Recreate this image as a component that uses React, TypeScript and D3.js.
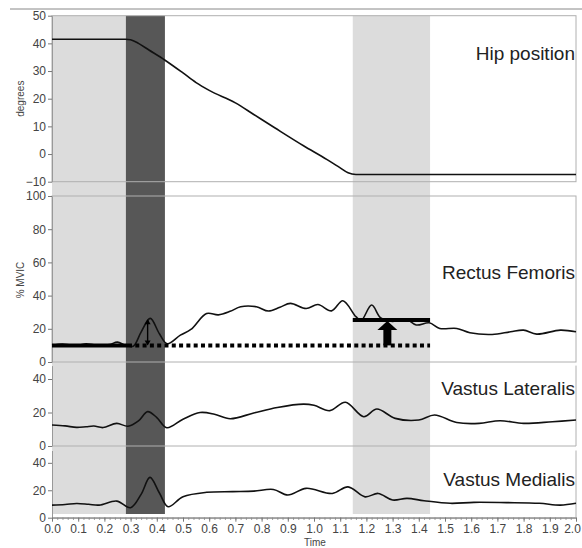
import { useEffect, useRef } from "react";
import * as d3 from "d3";

const WIDTH = 582;
const HEIGHT = 548;
const X_LEFT = 52;
const X_RIGHT = 576;
const FONT = "Arial, 'Liberation Sans', Helvetica, sans-serif";

// hip position (degrees)
const hipTime = [0, 0.28, 0.3, 0.33, 0.37, 0.43, 0.5, 0.55, 0.6, 0.7, 0.77, 0.85, 0.96, 1.05, 1.1, 1.13, 1.16, 2.0];
const hipDeg = [41.5, 41.5, 41.3, 40, 37.6, 34, 29.3, 25.8, 23, 18.5, 14.3, 9.5, 3, -2, -5, -6.8, -7.4, -7.4];

// rectus femoris (% MVIC)
const rfTime = [0, 0.04, 0.07, 0.1, 0.13, 0.16, 0.19, 0.22, 0.25, 0.28, 0.31, 0.34, 0.375, 0.41, 0.44, 0.49, 0.53, 0.59, 0.635, 0.68, 0.72, 0.78, 0.826, 0.87, 0.91, 0.97, 1.015, 1.067, 1.11, 1.16, 1.18, 1.22, 1.255, 1.3, 1.35, 1.39, 1.44, 1.48, 1.545, 1.595, 1.68, 1.75, 1.8, 1.85, 1.94, 2.0];
const rfVal = [10, 10.8, 10.2, 10, 11, 10.3, 10, 10.5, 12, 10, 9.5, 18, 26.3, 17, 11, 16.2, 19.6, 29.2, 28.4, 30.5, 33.3, 33.3, 30.7, 33, 35.3, 32.2, 34.6, 30.8, 36.9, 27.3, 25, 34.3, 26.5, 24.5, 26, 22.3, 23.6, 20.2, 20.2, 17.6, 16.6, 18.2, 19.2, 16.8, 19.2, 18.2];

// vastus lateralis (% MVIC)
const vlTime = [0, 0.05, 0.094, 0.13, 0.16, 0.195, 0.247, 0.29, 0.33, 0.365, 0.4, 0.438, 0.5, 0.565, 0.62, 0.68, 0.77, 0.86, 0.96, 1.0, 1.06, 1.12, 1.19, 1.24, 1.31, 1.4, 1.46, 1.545, 1.63, 1.71, 1.8, 1.91, 2.0];
const vlVal = [12.5, 12, 11.1, 11.5, 11.9, 11, 13.5, 11.8, 15, 20.5, 17, 10.9, 16, 20, 19, 16.3, 19.7, 23, 25, 24.3, 21.1, 26.1, 17.5, 22.1, 16.5, 15.5, 18.5, 14, 13.5, 15.1, 13.5, 14.5, 15.5];

// vastus medialis (% MVIC)
const vmTime = [0, 0.05, 0.094, 0.14, 0.18, 0.247, 0.3, 0.34, 0.374, 0.41, 0.443, 0.5, 0.59, 0.69, 0.77, 0.845, 0.9, 0.97, 1.07, 1.13, 1.195, 1.245, 1.3, 1.355, 1.42, 1.52, 1.61, 1.735, 1.86, 1.94, 2.0];
const vmVal = [9.2, 9.6, 10.4, 9.8, 9.2, 12.1, 7.3, 17, 29.4, 18, 8, 15.3, 18.5, 19, 19.4, 20.6, 16.5, 21.4, 17.7, 22.5, 15.2, 17.7, 12.9, 14.1, 12.4, 10.5, 11.2, 11, 10.5, 9.2, 10.5];

const hipTicks = [-10, 0, 10, 20, 30, 40, 50];
const rfTicks = [0, 20, 40, 60, 80, 100];
const vastusTicks = [0, 20, 40];
const timeTicks = d3.range(0, 21).map((i) => i / 10);
const timeMinorTicks = d3.range(0, 101).map((i) => i / 50);
const panelLabels = ["Hip position", "Rectus Femoris", "Vastus Lateralis", "Vastus Medialis"];

// phases (s)
const lightPhases = [[0, 0.282], [1.148, 1.443]];
const darkPhase = [0.282, 0.431];

// rectus femoris annotations
const rfBaseline = 10;
const rfBaselineSolidEnd = 0.29;
const rfPeakTime = 0.365;
const rfPeak = 25.8;
const rfHoldStart = 1.148;
const rfHoldEnd = 1.443;
const rfHold = 25.3;
const rfArrowTime = 1.28;

const PANELS = [
  { top: 15.7, bottom: 181.7, domain: [-10, 50], ticks: hipTicks, labelY: 60, boxed: true },
  { top: 196, bottom: 362, domain: [0, 100], ticks: rfTicks, labelY: 279, boxed: true },
  { top: 365.6, bottom: 446, domain: [0, 48], ticks: vastusTicks, labelY: 395, boxed: false },
  { top: 450.5, bottom: 517.7, domain: [0, 49], ticks: vastusTicks, labelY: 486, boxed: false },
];

const SERIES = [
  { t: hipTime, v: hipDeg, curve: d3.curveMonotoneX },
  { t: rfTime, v: rfVal, curve: d3.curveCatmullRom.alpha(0.5) },
  { t: vlTime, v: vlVal, curve: d3.curveCatmullRom.alpha(0.5) },
  { t: vmTime, v: vmVal, curve: d3.curveCatmullRom.alpha(0.5) },
];

export default function App() {
  const axesRef = useRef<SVGGElement>(null);

  const x = d3.scaleLinear().domain([0, 2]).range([X_LEFT, X_RIGHT]);
  const ys = PANELS.map((p) => d3.scaleLinear().domain(p.domain).range([p.bottom, p.top]));
  const bandTop = PANELS[0].top;
  const bandBottom = 514;

  useEffect(() => {
    const g = d3.select(axesRef.current);
    g.selectAll("*").remove();

    const style = (sel: any, size: number) => {
      sel.attr("font-size", size).attr("font-family", FONT);
      sel.select(".domain").attr("stroke", "#999");
      sel.selectAll(".tick line").attr("stroke", "#777");
      sel.selectAll(".tick text").attr("fill", "#444");
    };

    PANELS.forEach((p, i) => {
      const ax = g
        .append("g")
        .attr("transform", `translate(${X_LEFT},0)`)
        .call(d3.axisLeft(ys[i]).tickValues(p.ticks).tickSize(4).tickSizeOuter(0).tickPadding(2));
      style(ax, 12);
    });

    const bottom = PANELS[3].bottom;
    const minor = g
      .append("g")
      .attr("transform", `translate(0,${bottom})`)
      .call(d3.axisBottom(x).tickValues(timeMinorTicks).tickSize(2).tickSizeOuter(0).tickFormat(() => ""));
    style(minor, 12);

    const major = g
      .append("g")
      .attr("transform", `translate(0,${bottom})`)
      .call(d3.axisBottom(x).tickValues(timeTicks).tickSize(4).tickSizeOuter(0).tickPadding(3).tickFormat(d3.format(".1f")));
    style(major, 12);
    // last label sits against the right edge
    major.selectAll(".tick text").filter((d: any) => d === 2).attr("dx", -4);
  }, []);

  const yRF = ys[1];
  const xa = x(rfArrowTime);
  const yHold = yRF(rfHold);
  const yBase = yRF(rfBaseline);
  const xp = x(rfPeakTime);
  const yPeak = yRF(rfPeak);

  return (
    <svg width={WIDTH} height={HEIGHT} style={{ position: "absolute", left: 0, top: 0, background: "#fff" }}>
      <line x1={10} x2={WIDTH} y1={9} y2={9} stroke="#888" strokeWidth={1} />

      {lightPhases.map(([a, b], i) => (
        <rect key={i} x={x(a)} y={bandTop} width={x(b) - x(a)} height={bandBottom - bandTop} fill="#dcdcdc" />
      ))}
      <rect x={x(darkPhase[0])} y={bandTop} width={x(darkPhase[1]) - x(darkPhase[0])} height={bandBottom - bandTop} fill="#575757" />

      {PANELS.map((p, i) =>
        p.boxed ? (
          <rect key={i} x={X_LEFT} y={p.top} width={X_RIGHT - X_LEFT} height={p.bottom - p.top} fill="none" stroke="#b0b0b0" />
        ) : (
          <g key={i} stroke="#b0b0b0" fill="none">
            <line x1={X_RIGHT} x2={X_RIGHT} y1={p.top} y2={p.bottom} />
            <line x1={X_LEFT} x2={X_RIGHT} y1={p.bottom} y2={p.bottom} />
          </g>
        )
      )}

      <g ref={axesRef} />

      {SERIES.map((s, i) => {
        const line = d3
          .line<number>()
          .x((_, j) => x(s.t[j]))
          .y((d) => ys[i](d))
          .curve(s.curve);
        return <path key={i} d={line(s.v) ?? ""} fill="none" stroke="#111" strokeWidth={1.6} />;
      })}

      {/* rectus femoris annotations */}
      <line x1={x(0)} x2={x(rfBaselineSolidEnd)} y1={yBase} y2={yBase} stroke="#000" strokeWidth={4} />
      <line x1={x(rfBaselineSolidEnd)} x2={x(rfHoldEnd)} y1={yBase} y2={yBase} stroke="#000" strokeWidth={4} strokeDasharray="4 3.3" />
      <line x1={x(rfHoldStart)} x2={x(rfHoldEnd)} y1={yHold} y2={yHold} stroke="#000" strokeWidth={4} />
      <rect x={xa - 4} y={yHold + 9} width={8} height={yBase - yHold - 9} fill="#000" />
      <polygon points={`${xa - 10},${yHold + 10} ${xa + 10},${yHold + 10} ${xa},${yHold + 1}`} fill="#000" />

      <line x1={xp} x2={xp} y1={yPeak + 1} y2={yBase - 1} stroke="#000" strokeWidth={1.4} />
      <polygon points={`${xp - 3},${yPeak + 5} ${xp + 3},${yPeak + 5} ${xp},${yPeak}`} fill="#000" />
      <polygon points={`${xp - 3},${yBase - 5} ${xp + 3},${yBase - 5} ${xp},${yBase}`} fill="#000" />

      {PANELS.map((p, i) => (
        <text key={i} x={575} y={p.labelY} textAnchor="end" fontFamily={FONT} fontSize={19} fill="#222">
          {panelLabels[i]}
        </text>
      ))}

      <text transform={`translate(24,${(PANELS[0].top + PANELS[0].bottom) / 2}) rotate(-90)`} textAnchor="middle" fontFamily={FONT} fontSize={10} fill="#444">
        degrees
      </text>
      <text transform={`translate(24,280) rotate(-90)`} textAnchor="middle" fontFamily={FONT} fontSize={10} fill="#444">
        % MVIC
      </text>
      <text x={315} y={546} textAnchor="middle" fontFamily={FONT} fontSize={10} fill="#444">
        Time
      </text>
    </svg>
  );
}
